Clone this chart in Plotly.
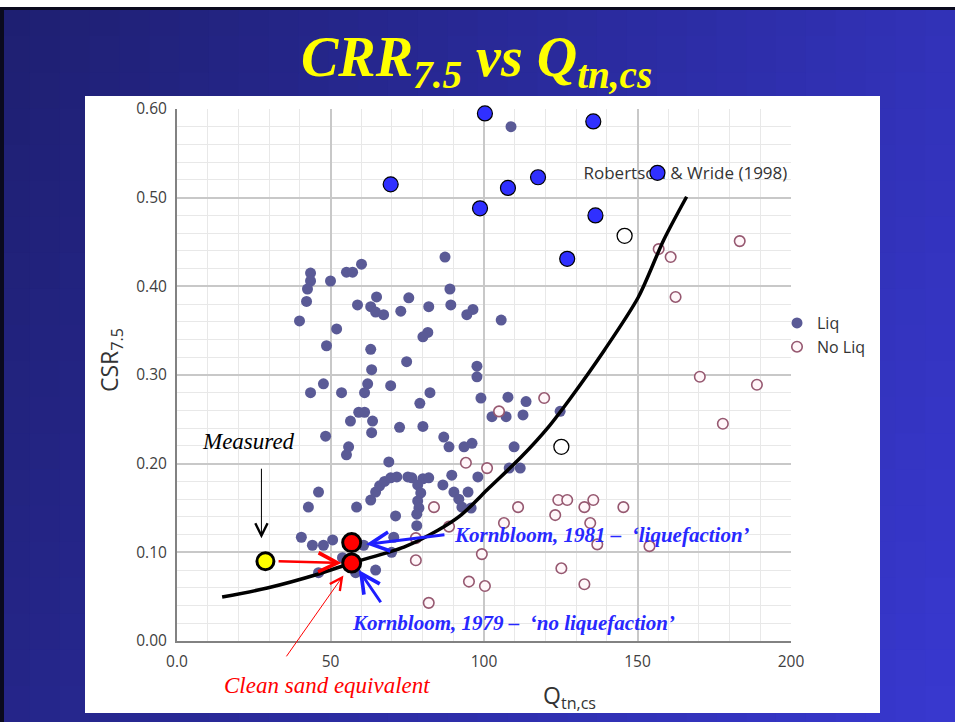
import plotly.graph_objects as go

# ---------------------------------------------------------------- data
# Case histories: liquefaction observed (Qtn,cs, CSR7.5)
liq_q = [87.3, 60.1, 55.2, 57.2, 43.5, 43.5, 50.0, 42.5, 88.9, 42.2, 65.0, 75.5, 58.8, 63.1,
         64.7, 67.3, 72.9, 82.0, 89.2, 96.4, 94.4, 39.9, 52.0, 81.7, 80.1, 48.7, 63.1, 74.8,
         97.7, 97.7, 63.4, 47.7, 62.1, 69.6, 43.5, 53.6, 61.1, 82.4, 79.1, 99.0, 59.2, 61.1,
         56.5, 63.7, 72.5, 80.1, 102.6, 48.4, 63.4, 86.9, 88.6, 93.5, 96.1, 55.9, 55.2, 105.6,
         107.8, 113.7, 107.2, 112.7, 124.8, 109.8, 108.8, 69.0, 63.1, 64.7, 66.0, 67.6, 69.6,
         71.6, 75.2, 76.5, 80.1, 82.0, 78.4, 79.4, 78.4, 78.8, 78.1, 78.1, 86.6, 89.5, 90.2,
         91.8, 94.8, 92.8, 95.8, 98.0, 108.2, 111.8, 46.1, 42.8, 58.5, 71.2, 40.5, 44.1, 47.7,
         50.7, 60.8, 70.6, 69.9, 53.9, 46.1, 58.2, 64.7]
liq_csr = [0.433, 0.425, 0.416, 0.416, 0.415, 0.406, 0.406, 0.397, 0.397, 0.383, 0.388, 0.387,
           0.379, 0.377, 0.371, 0.368, 0.372, 0.377, 0.379, 0.374, 0.368, 0.361, 0.352, 0.348,
           0.343, 0.333, 0.329, 0.315, 0.310, 0.298, 0.306, 0.290, 0.290, 0.288, 0.280, 0.280,
           0.280, 0.280, 0.268, 0.274, 0.258, 0.258, 0.248, 0.248, 0.241, 0.242, 0.253, 0.231,
           0.235, 0.230, 0.219, 0.219, 0.223, 0.219, 0.210, 0.362, 0.275, 0.270, 0.253, 0.255,
           0.259, 0.219, 0.580, 0.202, 0.159, 0.168, 0.175, 0.180, 0.184, 0.185, 0.185, 0.184,
           0.183, 0.184, 0.176, 0.167, 0.158, 0.150, 0.143, 0.130, 0.176, 0.187, 0.168, 0.160,
           0.168, 0.151, 0.150, 0.185, 0.195, 0.195, 0.168, 0.151, 0.151, 0.141, 0.117, 0.108,
           0.108, 0.114, 0.108, 0.117, 0.100, 0.094, 0.077, 0.077, 0.080]

# Case histories: no liquefaction
noliq_q = [156.9, 160.8, 183.3, 162.4, 170.3, 188.9, 177.8, 119.6, 104.9, 94.1, 101.0, 83.7,
           111.1, 124.2, 127.1, 132.7, 135.6, 145.4, 123.2, 106.5, 134.6, 88.6, 77.8, 136.9,
           153.9, 99.3, 77.8, 125.2, 95.1, 100.3, 132.7, 82.0]
noliq_csr = [0.442, 0.433, 0.451, 0.388, 0.298, 0.289, 0.245, 0.274, 0.259, 0.201, 0.195,
             0.151, 0.151, 0.159, 0.159, 0.151, 0.159, 0.151, 0.142, 0.133, 0.133, 0.129,
             0.116, 0.109, 0.107, 0.098, 0.091, 0.082, 0.067, 0.062, 0.064, 0.043]

# Additional liquefaction cases (highlighted)
hi_q = [100.3, 135.6, 69.6, 117.6, 107.8, 156.5, 98.7, 136.3, 127.1]
hi_csr = [0.595, 0.586, 0.515, 0.523, 0.511, 0.528, 0.488, 0.480, 0.431]

# Additional no-liquefaction cases (highlighted)
open_q = [174.5, 178.4, 145.8, 125.2]
open_csr = [0.606, 0.606, 0.457, 0.219]

# Robertson & Wride (1998) CRR curve
crr_q = [14.7, 29.4, 46.1, 56.9, 73.9, 85.0, 92.5, 101.6, 112.1, 120.9, 128.4, 139.2,
         150.3, 158.5, 166.0]
crr_v = [0.0496, 0.0598, 0.0756, 0.088, 0.106, 0.125, 0.142, 0.1725, 0.2075, 0.241,
         0.275, 0.328, 0.388, 0.452, 0.501]

# Kornbloom site: measured and clean-sand equivalent
meas_q, meas_csr = [28.8], [0.090]
korn_q = [56.9, 56.9]
korn_csr = [0.111, 0.088]

x_ticks = [0, 50, 100, 150, 200]
x_tick_text = ["0.0", "50", "100", "150", "200"]
y_ticks = [0.0, 0.1, 0.2, 0.3, 0.4, 0.5, 0.6]
y_tick_text = ["0.00", "0.10", "0.20", "0.30", "0.40", "0.50", "0.60"]

# ---------------------------------------------------------------- layout geometry
W, H = 955, 722
L, R, T, B = 177, 164, 109, 81
PW, PH = W - L - R, H - T - B


def pxx(p):
    return (p - L) / PW


def pxy(p):
    return (H - B - p) / PH


SANS = "Open Sans"
SERIF = "Liberation Serif"

fig = go.Figure()

fig.add_trace(go.Scatter(
    x=liq_q, y=liq_csr, mode="markers", name="Liq",
    marker=dict(size=11, color="rgb(90,90,150)", line=dict(width=0)),
    cliponaxis=False))
fig.add_trace(go.Scatter(
    x=noliq_q, y=noliq_csr, mode="markers", name="No Liq",
    marker=dict(size=10.5, color="rgb(255,246,249)", line=dict(width=1.6, color="rgb(150,88,112)")),
    cliponaxis=False))
fig.add_trace(go.Scatter(
    x=crr_q, y=crr_v, mode="lines", showlegend=False,
    line=dict(color="black", width=3.5, shape="spline", smoothing=0.8)))
fig.add_trace(go.Scatter(
    x=[132.4], y=[0.5255], mode="text", text=["Robertson & Wride (1998)"],
    textposition="middle right", showlegend=False,
    textfont=dict(family=SANS, size=17, color="#333333"), cliponaxis=False))
fig.add_trace(go.Scatter(
    x=hi_q, y=hi_csr, mode="markers", showlegend=False,
    marker=dict(size=15, color="rgb(48,48,255)", line=dict(width=1.2, color="black")),
    cliponaxis=False))
fig.add_trace(go.Scatter(
    x=open_q, y=open_csr, mode="markers", showlegend=False,
    marker=dict(size=15, color="white", line=dict(width=1.3, color="black")),
    cliponaxis=False))
fig.add_trace(go.Scatter(
    x=meas_q, y=meas_csr, mode="markers", showlegend=False,
    marker=dict(size=17, color="rgb(255,255,0)", line=dict(width=3, color="black")),
    cliponaxis=False))
fig.add_trace(go.Scatter(
    x=korn_q, y=korn_csr, mode="markers", showlegend=False,
    marker=dict(size=18, color="rgb(255,0,0)", line=dict(width=3, color="black")),
    cliponaxis=False))

# ---------------------------------------------------------------- arrows and notes
arrows = [
    # (head_x, head_y, tail_x, tail_y, color, width, size)
    (53.6, 0.088, 32.6, 0.090, "red", 2.5, 1.5),
    (27.5, 0.116, 27.5, 0.196, "black", 1.0, 2.4),
    (61.6, 0.109, 87.6, 0.120, "rgb(30,30,255)", 3.0, 1.25),
    (59.2, 0.080, 66.7, 0.042, "rgb(30,30,255)", 3.0, 1.25),
    (54.2, 0.074, 35.3, -0.019, "red", 1.0, 2.4),
]
annotations = []
for hx, hy, tx, ty, col, wd, sz in arrows:
    annotations.append(dict(
        x=hx, y=hy, ax=tx, ay=ty, xref="x", yref="y", axref="x", ayref="y",
        showarrow=True, arrowhead=5, arrowsize=sz,
        arrowwidth=wd, arrowcolor=col, text="", standoff=0, startstandoff=0))

annotations += [
    dict(x=23.2, y=0.2255, xref="x", yref="y", text="<i>Measured</i>", showarrow=False,
         xanchor="center", yanchor="middle",
         font=dict(family=SERIF, size=23, color="black")),
    dict(x=pxx(327), y=pxy(685), xref="paper", yref="paper", text="<i>Clean sand equivalent</i>",
         xanchor="center", yanchor="middle",
         showarrow=False, font=dict(family=SERIF, size=23, color="red")),
    dict(x=89.6, y=0.1195, xref="x", yref="y", xanchor="left", yanchor="middle",
         text="<b><i>Kornbloom, 1981 –  ‘liquefaction’</i></b>", showarrow=False,
         font=dict(family=SERIF, size=21, color="rgb(40,40,255)")),
    dict(x=56.2, y=0.0203, xref="x", yref="y", xanchor="left", yanchor="middle",
         text="<b><i>Kornbloom, 1979 –  ‘no liquefaction’</i></b>", showarrow=False,
         font=dict(family=SERIF, size=21, color="rgb(40,40,255)")),
    # axis titles
    dict(x=pxx(110), y=pxy(360), xref="paper", yref="paper", textangle=-90,
         xanchor="center", yanchor="middle",
         text="CSR<sub>7.5</sub>", showarrow=False,
         font=dict(family=SANS, size=23, color="#333333")),
    dict(x=pxx(569), y=pxy(697), xref="paper", yref="paper",
         xanchor="center", yanchor="middle",
         text="Q<sub>tn,cs</sub>", showarrow=False,
         font=dict(family=SANS, size=23, color="#333333")),
    # slide title
    dict(x=pxx(476), y=pxy(24), xref="paper", yref="paper", yanchor="top", xanchor="center",
         text="<b><i>CRR<sub>7.5</sub> vs Q<sub>tn,cs</sub></i></b>", showarrow=False,
         font=dict(family=SERIF, size=56, color="rgb(255,255,0)")),
]

# ---------------------------------------------------------------- slide background
shapes = []
NX, NY = 32, 20
c0 = (30, 31, 112)
c1 = (56, 56, 208)
for i in range(NX):
    for j in range(NY):
        t = 0.75 * (i + 0.5) / NX + 0.25 * (j + 0.5) / NY
        col = "rgb(%d,%d,%d)" % tuple(round(a + (b - a) * t) for a, b in zip(c0, c1))
        x0 = W * i / NX
        x1 = W * (i + 1) / NX + 1
        y0 = H * j / NY
        y1 = H * (j + 1) / NY + 1
        shapes.append(dict(type="rect", xref="paper", yref="paper", layer="below",
                           x0=pxx(x0), x1=pxx(x1), y0=pxy(y1), y1=pxy(y0),
                           line=dict(width=0), fillcolor=col))
# white strip and dark frame at the top/left edge
shapes.append(dict(type="rect", xref="paper", yref="paper", layer="below",
                   x0=pxx(0), x1=pxx(W), y0=pxy(7), y1=pxy(0),
                   line=dict(width=0), fillcolor="white"))
shapes.append(dict(type="rect", xref="paper", yref="paper", layer="below",
                   x0=pxx(0), x1=pxx(W), y0=pxy(10), y1=pxy(7),
                   line=dict(width=0), fillcolor="rgb(10,10,30)"))
shapes.append(dict(type="rect", xref="paper", yref="paper", layer="below",
                   x0=pxx(0), x1=pxx(4), y0=pxy(H), y1=pxy(7),
                   line=dict(width=0), fillcolor="rgb(10,10,30)"))
# white chart panel
shapes.append(dict(type="rect", xref="paper", yref="paper", layer="below",
                   x0=pxx(85), x1=pxx(880), y0=pxy(713), y1=pxy(96),
                   line=dict(width=0), fillcolor="white"))

axis_common = dict(
    showgrid=True, gridcolor="rgb(200,200,200)", gridwidth=1.6,
    zeroline=False, showline=True, linecolor="rgb(130,130,130)", linewidth=2,
    ticks="", ticklabelstandoff=5, tickfont=dict(family=SANS, size=15.5, color="#404040"),
)

fig.update_layout(
    width=W, height=H,
    margin=dict(l=L, r=R, t=T, b=B, pad=0),
    paper_bgcolor="rgb(40,40,160)",
    plot_bgcolor="white",
    showlegend=True,
    legend=dict(x=pxx(777), y=pxy(306), xanchor="left", yanchor="top",
                bgcolor="rgba(0,0,0,0)", borderwidth=0, itemwidth=30,
                font=dict(family=SANS, size=16, color="#333333"), tracegroupgap=0),
    xaxis=dict(range=[0, 200], tickvals=x_ticks, ticktext=x_tick_text,
               minor=dict(dtick=10, showgrid=True, gridcolor="rgb(232,232,232)", gridwidth=1),
               **axis_common),
    yaxis=dict(range=[0, 0.6], tickvals=y_ticks, ticktext=y_tick_text,
               minor=dict(dtick=0.02, showgrid=True, gridcolor="rgb(232,232,232)", gridwidth=1),
               **axis_common),
    shapes=shapes,
    annotations=annotations,
)

fig.write_html("out.html")
